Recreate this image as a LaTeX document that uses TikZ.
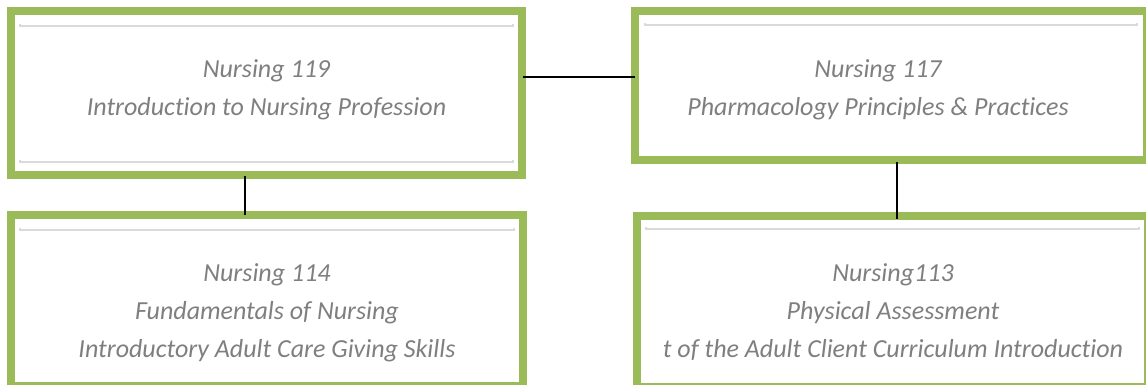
\documentclass[tikz,border=0pt]{standalone}
\usepackage{fontspec}
\setmainfont{Carlito}[Ligatures=NoCommon]
\usetikzlibrary{positioning}
\definecolor{oliveframe}{HTML}{9BBB59}
\definecolor{bargray}{HTML}{DADADA}
\definecolor{textgray}{HTML}{7F7F7F}

\begin{document}
\begin{tikzpicture}[x=1pt,y=1pt,
  frame/.style={draw=oliveframe, line width=8pt, fill=white, inner sep=0pt},
  bar/.style={draw=bargray, line width=1.5pt},
  course/.style={text=textgray, align=center, anchor=base,
    font=\fontsize{26}{38}\selectfont\itshape},
  link/.style={draw=black, line width=2pt}]
\useasboundingbox (0,0) rectangle (1146,-385);
\clip (0,0) rectangle (1146,-385);
% course frames
\node[frame, minimum width=511pt, minimum height=164pt] (f119) at (266.5,-93) {};
\node[frame, minimum width=512pt, minimum height=149pt] (f117) at (891,-85.5) {};
\node[frame, minimum width=512pt, minimum height=171pt] (f114) at (267,-300.5) {};
\node[frame, minimum width=511pt, minimum height=171pt] (f113) at (892.5,-301.5) {};
% thin rules inside the frames
\draw[bar] (20,-24) -- (20,-26) -- (513,-26) -- (513,-24);
\draw[bar] (20,-160) -- (20,-162) -- (513,-162) -- (513,-160);
\draw[bar] (645,-23) -- (645,-25) -- (1137,-25) -- (1137,-23);
\draw[bar] (20,-228) -- (20,-230) -- (514,-230) -- (514,-228);
\draw[bar] (646,-227) -- (646,-229) -- (1139,-229) -- (1139,-227);
% course titles (base sits on the last line)
\node[course] (t119) at (266.5,-116) {Nursing 119\\Introduction to Nursing Profession};
\node[course] (t117) at (878,-116) {Nursing 117\\Pharmacology Principles \& Practices};
\node[course] (t114) at (267,-357) {Nursing 114\\Fundamentals of Nursing\\Introductory Adult Care Giving Skills};
\node[course] (t113) at (893,-357) {Nursing113\\Physical Assessment\\t of the Adult Client Curriculum Introduction};
% connectors
\draw[link, shorten <=-3pt, shorten >=-4pt] ([yshift=16pt]f119.east) -- ([yshift=16pt]f119.east -| f117.west);
\draw[link, shorten <=-3pt, shorten >=-4pt] ([xshift=-21.5pt]f119.south) -- ([xshift=-21.5pt]f119.south |- f114.north);
\draw[link, shorten <=-2pt, shorten >=-7pt] ([xshift=6pt]f117.south) -- ([xshift=6pt]f117.south |- f113.north);
\end{tikzpicture}
\end{document}
